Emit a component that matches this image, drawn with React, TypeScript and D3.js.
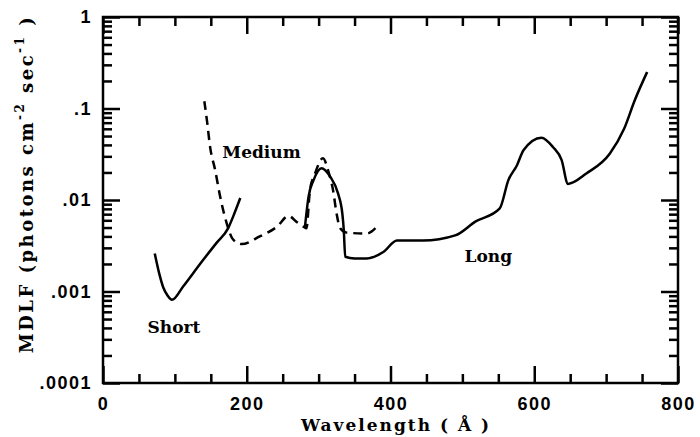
import { useEffect, useRef } from "react";
import * as d3 from "d3";

// wavelength (Å) and MDLF values
const shortWl = [72, 78, 84, 90, 96, 112, 135, 158, 174, 183, 191];
const shortVal = [0.0026, 0.0016, 0.0011, 0.0009, 0.00081, 0.00115, 0.002, 0.0034, 0.0049, 0.0072, 0.0105];

const mediumWl = [141, 145, 149, 156, 163, 172, 181, 193, 218, 242, 258, 270, 279, 283, 288, 295, 306, 314, 320, 325, 330, 339, 367, 381];
const mediumVal = [0.12, 0.07, 0.038, 0.0213, 0.0109, 0.0056, 0.0037, 0.0033, 0.004, 0.0051, 0.0067, 0.0057, 0.0051, 0.0049, 0.0129, 0.0195, 0.0286, 0.02, 0.0129, 0.0071, 0.0049, 0.0044, 0.0043, 0.0051];

const longWl = [281, 286, 293, 304, 316, 327, 333, 335, 337, 350, 367, 390, 409, 445, 490, 518, 552, 564, 576, 585, 610, 626, 638, 647, 673, 705, 725, 740, 757];
const longVal = [0.0051, 0.0109, 0.0165, 0.0222, 0.018, 0.0118, 0.0071, 0.0047, 0.0024, 0.0023, 0.0023, 0.0027, 0.0036, 0.0036, 0.0041, 0.0058, 0.0081, 0.0165, 0.024, 0.035, 0.048, 0.038, 0.0274, 0.015, 0.0196, 0.032, 0.06, 0.124, 0.25];

const xMajor = [0, 200, 400, 600, 800];
const xMinor = [50, 100, 150, 250, 300, 350, 450, 500, 550, 650, 700, 750];
const yMajor = [0.0001, 0.001, 0.01, 0.1, 1];
const yMinorMult = [2, 3, 4, 5, 6, 7, 8, 9];
const yLabels = [".0001", ".001", ".01", ".1", "1"];

const curveLabels = [
  { text: "Short", wl: 62, val: 0.00035 },
  { text: "Medium", wl: 166, val: 0.0288 },
  { text: "Long", wl: 503, val: 0.0021 },
];

const App = () => {
  const svgRef = useRef<SVGSVGElement>(null);

  useEffect(() => {
    const svg = d3.select(svgRef.current);
    svg.selectAll("*").remove();

    const width = 700;
    const height = 437;
    const margin = { top: 17, right: 22, bottom: 54, left: 103 };
    const bottom = height - margin.bottom;
    const right = width - margin.right;

    const x = d3.scaleLinear().domain([0, 800]).range([margin.left, right]);
    const y = d3.scaleLog().domain([0.0001, 1]).range([bottom, margin.top]);

    const yMinor: number[] = [];
    yMajor.slice(0, -1).forEach((d) => yMinorMult.forEach((m) => yMinor.push(d * m)));

    const tickFont = "'Liberation Sans', Arial, sans-serif";
    const titleFont = "'DejaVu Serif', serif";

    // frame
    svg.append("path")
      .attr("d", `M${margin.left},${margin.top}H${right}V${bottom}H${margin.left}Z`)
      .attr("fill", "none")
      .attr("stroke", "#000")
      .attr("stroke-width", 2.5);

    const line = d3.line<[number, number]>()
      .x((d) => x(d[0]))
      .y((d) => y(d[1]))
      .curve(d3.curveMonotoneX);

    const series = [
      { wl: shortWl, val: shortVal, dash: null },
      { wl: mediumWl, val: mediumVal, dash: "9,6" },
      { wl: longWl, val: longVal, dash: null },
    ];

    series.forEach((s) => {
      const pts = s.wl.map((w, i) => [w, s.val[i]] as [number, number]);
      svg.append("path")
        .datum(pts)
        .attr("fill", "none")
        .attr("stroke", "#000")
        .attr("stroke-width", 2.5)
        .attr("stroke-linejoin", "round")
        .attr("stroke-dasharray", s.dash)
        .attr("d", line);
    });

    svg.selectAll(".curve-label")
      .data(curveLabels)
      .enter()
      .append("text")
      .attr("class", "curve-label")
      .attr("x", (d) => x(d.wl))
      .attr("y", (d) => y(d.val))
      .attr("fill", "#000")
      .style("font-family", titleFont)
      .style("font-weight", "bold")
      .style("font-size", "17px")
      .text((d) => d.text);

    // x title
    svg.append("text")
      .attr("x", 396)
      .attr("y", 431)
      .attr("text-anchor", "middle")
      .attr("fill", "#000")
      .style("font-family", titleFont)
      .style("font-weight", "bold")
      .style("font-size", "17px")
      .style("letter-spacing", "2px")
      .text("Wavelength ( Å )");

    // y title
    const ytl = svg.append("text")
      .attr("transform", `translate(33,184) rotate(-90)`)
      .attr("text-anchor", "middle")
      .attr("fill", "#000")
      .style("font-family", titleFont)
      .style("font-weight", "bold")
      .style("font-size", "18px")
      .style("letter-spacing", "2.5px");
    ytl.append("tspan").text("MDLF (photons cm");
    ytl.append("tspan").attr("dy", -9).style("font-size", "12px").text("-2");
    ytl.append("tspan").attr("dy", 9).text(" sec");
    ytl.append("tspan").attr("dy", -9).style("font-size", "12px").text("-1");
    ytl.append("tspan").attr("dy", 9).text(" )");

    // axes drawn last: inward ticks on all four sides, labels on bottom and left
    const addAxis = (axis: any, tx: number, ty: number, labels: boolean) => {
      const g = svg.append("g").attr("transform", `translate(${tx},${ty})`).call(axis);
      g.select(".domain").remove();
      g.selectAll(".tick line").attr("stroke", "black").attr("stroke-width", 2.5);
      if (labels) {
        g.selectAll(".tick text")
          .attr("fill", "#000")
          .style("font-family", tickFont)
          .style("font-weight", "bold")
          .style("font-size", "18px")
          .style("letter-spacing", "1.5px");
      } else {
        g.selectAll(".tick text").remove();
      }
    };

    addAxis(d3.axisBottom(x).tickValues(xMajor).tickSize(-17).tickPadding(14).tickFormat(d3.format("d")), 0, bottom, true);
    addAxis(d3.axisBottom(x).tickValues(xMinor).tickSize(-9), 0, bottom, false);
    addAxis(d3.axisTop(x).tickValues(xMajor).tickSize(-17), 0, margin.top, false);
    addAxis(d3.axisTop(x).tickValues(xMinor).tickSize(-9), 0, margin.top, false);
    addAxis(d3.axisLeft(y).tickValues(yMajor).tickSize(-17).tickPadding(11).tickFormat((d: any, i: number) => yLabels[i]), margin.left, 0, true);
    addAxis(d3.axisLeft(y).tickValues(yMinor).tickSize(-9), margin.left, 0, false);
    addAxis(d3.axisRight(y).tickValues(yMajor).tickSize(-17), right, 0, false);
    addAxis(d3.axisRight(y).tickValues(yMinor).tickSize(-9), right, 0, false);
  }, []);

  return (
    <div style={{ position: "absolute", left: 0, top: 0 }}>
      <svg ref={svgRef} width={700} height={437} style={{ display: "block", background: "#fff" }}></svg>
    </div>
  );
};

export default App;
